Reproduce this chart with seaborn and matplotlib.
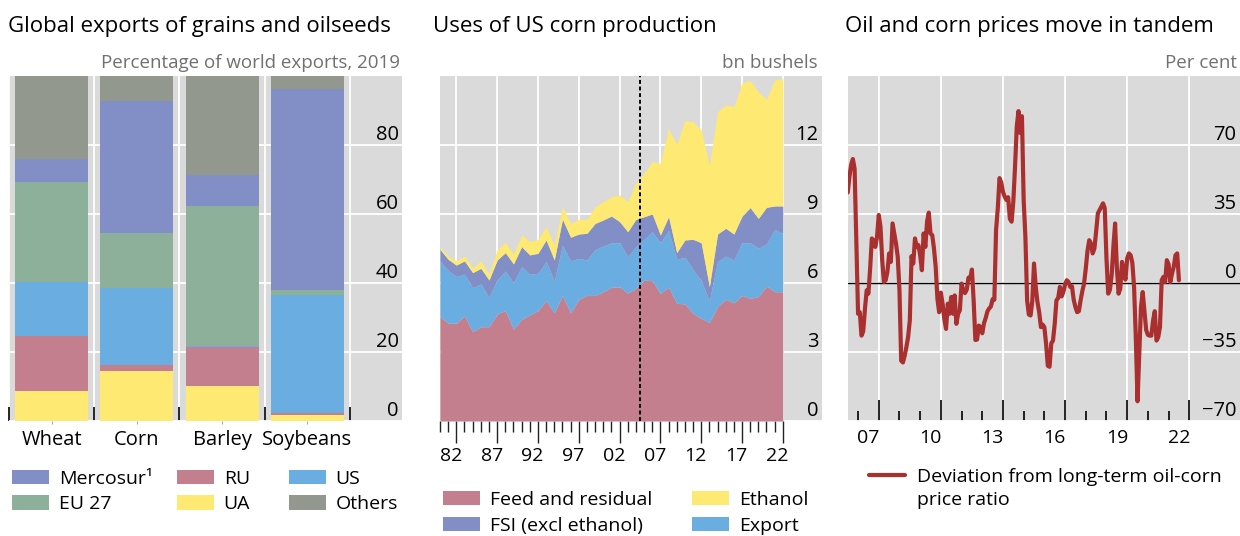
import matplotlib
matplotlib.use("Agg")
import matplotlib.pyplot as plt
import matplotlib.transforms as mtransforms
from matplotlib.patches import Patch
from matplotlib.lines import Line2D
import pandas as pd
import seaborn as sns

# panel 1: share of world exports in 2019 (%), stacked bottom to top
crops = ["Wheat", "Corn", "Barley", "Soybeans"]
ua = [8.7, 14.5, 10.1, 1.7]
ru = [15.9, 1.7, 11.4, 0.7]
us = [15.8, 22.4, 0.3, 34.1]
eu27 = [28.9, 15.9, 40.5, 1.5]
mercosur = [6.6, 38.3, 9.0, 58.2]
others = [24.1, 7.2, 28.7, 3.8]

# panel 2: uses of US corn production (bn bushels)
corn_years = list(range(1980, 2023))
feed = [4.54, 4.25, 4.25, 4.57, 3.88, 4.10, 4.10, 4.65, 4.80, 3.99,
        4.42, 4.61, 4.80, 5.23, 4.71, 5.45, 4.71, 5.29, 5.46, 5.46,
        5.62, 5.81, 5.84, 5.55, 5.77, 6.13, 6.10, 5.55, 5.81, 5.12,
        5.09, 4.68, 4.46, 4.28, 4.97, 5.29, 5.14, 5.46, 5.33, 5.41,
        5.87, 5.62, 5.62]
export = [2.42, 2.29, 2.03, 1.81, 1.92, 1.86, 1.28, 1.48, 1.72, 2.02,
          2.29, 1.77, 1.62, 1.70, 1.38, 2.20, 2.25, 1.78, 1.54, 2.00,
          1.99, 1.94, 1.91, 1.59, 1.81, 1.77, 2.13, 2.20, 2.47, 1.91,
          2.03, 1.89, 1.64, 0.95, 1.96, 1.88, 1.86, 2.29, 2.42, 2.10,
          1.83, 2.71, 2.54]
fsi = [0.50, 0.49, 0.50, 0.58, 0.65, 0.68, 0.75, 0.87, 0.80, 0.82,
       0.87, 0.84, 0.87, 0.94, 0.91, 1.12, 1.03, 1.06, 1.16, 1.13,
       1.13, 1.16, 0.92, 1.09, 1.19, 0.98, 0.77, 0.34, 0.60, 0.29,
       0.75, 1.33, 1.65, 0.61, 1.20, 1.21, 1.13, 1.16, 1.53, 1.30,
       1.59, 1.02, 1.19]
ethanol = [0.09, 0.14, 0.18, 0.21, 0.20, 0.32, 0.26, 0.43, 0.45, 0.42,
           0.51, 0.58, 0.61, 0.58, 0.65, 0.55, 0.60, 0.64, 0.61, 0.73,
           0.80, 0.84, 1.16, 1.31, 1.59, 1.89, 2.28, 3.11, 3.84, 4.71,
           5.19, 5.11, 4.90, 5.29, 5.32, 5.36, 5.54, 5.80, 5.52, 5.51,
           4.70, 5.48, 5.55]
policy_year = 2004.5

# panel 3: monthly deviation from long-term oil-corn price ratio (%), from Jul 2006
deviation = [45.9, 54.0, 60.0, 62.9, 58.0, 20.0, -15.6, -14.8, -26.7, -24.5,
             -13.1, -3.7, -5.4, 7.3, 22.6, 21.4, 18.3, 23.4, 34.5, 28.5,
             11.6, 0.5, 1.4, 5.6, 15.0, 10.7, 30.2, 25.1, 20.0, 13.3,
             -3.7, -39.4, -40.3, -36.9, -32.6, -27.5, -19.0, 13.6, 9.9, 22.6,
             18.3, 19.2, 14.1, 6.5, 25.1, 18.3, 31.1, 35.7, 25.1, 24.3,
             17.5, 8.2, -8.0, -14.8, -4.9, -10.5, -18.2, -23.3, -10.5, -15.6,
             -7.1, -15.6, -6.3, -20.7, -15.6, -13.9, -0.3, -3.7, -5.1, -3.4,
             2.7, 2.2, 6.8, -8.8, -28.9, -28.7, -21.6, -22.4, -25.5, -20.4,
             -17.7, -14.4, -12.9, -11.9, -8.2, -8.5, 26.8, 37.9, 53.2, 51.0,
             46.2, 43.8, 42.1, 43.5, 32.6, 31.1, 41.3, 59.1, 79.5, 87.2,
             76.1, 84.6, 42.1, 23.4, -8.8, -16.0, -16.5, -9.2, 9.9, -2.0,
             -9.7, -14.8, -22.4, -21.1, -22.4, -30.9, -42.0, -42.5, -30.6, -29.2,
             -20.7, -8.8, -7.6, -2.0, -6.8, -4.6, -0.7, 1.4, 0.5, -2.0,
             -1.7, -8.5, -12.2, -14.8, -14.3, -8.8, -4.1, -0.3, 7.3, 16.3,
             21.7, 20.0, 15.0, 17.5, 26.0, 35.3, 37.0, 38.7, 40.4, 37.9,
             12.4, -5.4, -3.4, 3.9, 18.3, 30.2, 8.2, -5.4, -2.9, 10.7,
             6.5, 1.7, 12.4, 15.0, 14.1, 10.2, -2.0, -27.5, -60.0, -36.0,
             -12.2, -4.6, -13.9, -23.8, -26.3, -26.7, -26.7, -19.0, -14.3, -29.2,
             -27.5, -22.4, 1.4, 3.1, 0.5, 11.6, 9.5, 0.5, 4.8, 8.2,
             14.1, 15.0, 1.4]

colors = {
    "Mercosur": "#828ec6",
    "RU": "#c47f8f",
    "US": "#6aade0",
    "EU 27": "#8db09a",
    "UA": "#fee972",
    "Others": "#93988f",
}
line_color = "#aa2f2f"
bg = "#dadada"

sns.set_theme(style="darkgrid", rc={"axes.facecolor": bg, "grid.color": "white",
                                   "grid.linewidth": 1.3, "axes.edgecolor": bg,
                                   "text.color": "black", "xtick.color": "black",
                                   "ytick.color": "black", "axes.labelcolor": "black"})
plt.rcParams["font.family"] = ["Open Sans", "DejaVu Sans"]

W, H = 1240, 536
fig = plt.figure(figsize=(W / 100, H / 100), dpi=100)
fig.patch.set_facecolor("white")


def axes_px(x0, x1, y0=76, y1=421):
    return fig.add_axes([x0 / W, 1 - y1 / H, (x1 - x0) / W, (y1 - y0) / H])


ax1 = axes_px(9, 402)
ax2 = axes_px(440, 822)
ax3 = axes_px(847.5, 1240)

for ax in (ax1, ax2, ax3):
    ax.set_axisbelow(True)
    for s in ax.spines.values():
        s.set_visible(False)


def inside_ylabels(ax, ticks, labels):
    ax.set_yticks(ticks, labels)
    ax.yaxis.tick_right()
    ax.tick_params(axis="y", which="both", length=0, pad=-2.5, labelsize=14.5,
                   labelcolor="black", right=True, labelright=True, left=False, labelleft=False)
    for lbl in ax.get_yticklabels():
        lbl.set_horizontalalignment("right")
        lbl.set_verticalalignment("bottom")
    ax.set_ylabel("")


# ---- panel 1: stacked bars
bars = pd.DataFrame({"UA": ua, "RU": ru, "US": us, "EU 27": eu27,
                     "Mercosur": mercosur, "Others": others}, index=crops)
cum = bars.cumsum(axis=1)
for name in reversed(bars.columns):
    sns.barplot(x=crops, y=cum[name].values, color=colors[name], width=0.856,
                saturation=1, linewidth=0, edgecolor="none", ax=ax1, zorder=2)
ax1.set_xlim(-0.5, 4.11)
ax1.set_ylim(0, 100)
ax1.set_xticks(range(len(crops)), crops)
ax1.set_xticks([-0.5, 0.5, 1.5, 2.5, 3.5], minor=True)
ax1.xaxis.grid(False, which="major")
ax1.xaxis.grid(True, which="minor", color="white", linewidth=1.3)
ax1.tick_params(axis="x", which="major", bottom=True, direction="out", length=2.5,
                width=0.8, color="#aaaaaa", pad=4, labelsize=14.5, labelcolor="black")
ax1.tick_params(axis="x", which="minor", bottom=True, direction="in", length=10,
                width=1.2, color="black")
inside_ylabels(ax1, [0, 20, 40, 60, 80], ["0", "20", "40", "60", "80"])

# ---- panel 2: stacked area
ax2.stackplot(corn_years, feed, export, fsi, ethanol,
              colors=[colors["RU"], colors["US"], colors["Mercosur"], colors["UA"]],
              linewidth=0, zorder=2)
ax2.axvline(policy_year, color="black", linestyle=(0, (2, 1.4)), linewidth=1.4, zorder=3)
ax2.set_xlim(1980, 2026.8)
ax2.set_ylim(0, 15)
major2 = list(range(1982, 2023, 5))
ax2.set_xticks(major2, [f"{y % 100:02d}" for y in major2])
ax2.set_xticks(corn_years, minor=True)
ax2.xaxis.grid(True, which="major", color="white", linewidth=1.3)
ax2.xaxis.grid(False, which="minor")
ax2.tick_params(axis="x", which="major", bottom=True, direction="out", length=16,
                width=1, color="#222222", pad=3, labelsize=14, labelcolor="black")
ax2.tick_params(axis="x", which="minor", bottom=True, direction="out", length=8,
                width=1, color="#222222")
inside_ylabels(ax2, [0, 3, 6, 9, 12], ["0", "3", "6", "9", "12"])

# ---- panel 3: line
months = pd.date_range("2006-07-01", periods=len(deviation), freq="MS")
dec_year = months.year + (months.month - 1) / 12
sns.lineplot(x=dec_year, y=deviation, color=line_color, linewidth=3, ax=ax3, zorder=3)
ax3.axhline(0, color="black", linewidth=1, zorder=2)
ax3.set_xlim(2006.49, 2025.45)
ax3.set_ylim(-70, 105)
major3 = list(range(2008, 2024, 3))
ax3.set_xticks(major3, [f"{(y - 1) % 100:02d}" for y in major3])
ax3.set_xticks(range(2007, 2024), minor=True)
ax3.xaxis.grid(True, which="major", color="white", linewidth=1.3)
ax3.xaxis.grid(False, which="minor")
ax3.tick_params(axis="x", which="major", bottom=True, direction="in", length=15,
                width=1.2, color="black", pad=6, labelsize=14, labelcolor="black")
ax3.tick_params(axis="x", which="minor", bottom=True, direction="in", length=7,
                width=1.2, color="black")
ax3.set_xlabel("")
inside_ylabels(ax3, [-70, -35, 0, 35, 70], ["\u221270", "\u221235", "0", "35", "70"])

# ---- titles
for x, t in [(8, "Global exports of grains and oilseeds"), (433, "Uses of US corn production"),
             (845, "Oil and corn prices move in tandem")]:
    fig.text(x / W, 1 - 32 / H, t, fontsize=16, color="black", va="baseline", ha="left")
for x, t in [(400, "Percentage of world exports, 2019"), (818, "bn bushels"), (1237, "Per cent")]:
    fig.text(x / W, 1 - 68 / H, t, fontsize=13.5, color="#707070", va="baseline", ha="right")

# ---- legends
leg_kw = dict(loc="center left", frameon=False, fontsize=14, handlelength=1.9,
              handleheight=0.75, handletextpad=0.5, labelspacing=0.4,
              borderpad=0, borderaxespad=0)


def legend_column(names, labels, x, y):
    handles = [Patch(facecolor=colors[n], edgecolor="none", label=l) for n, l in zip(names, labels)]
    fig.legend(handles=handles, bbox_to_anchor=(x / W, 1 - y / H), **leg_kw)


legend_column(["Mercosur", "EU 27"], ["Mercosur\u00b9", "EU 27"], 12, 491.5)
legend_column(["RU", "UA"], ["RU", "UA"], 177, 491.5)
legend_column(["US", "Others"], ["US", "Others"], 289, 491.5)
legend_column(["RU", "Mercosur"], ["Feed and residual", "FSI (excl ethanol)"], 443, 513)
legend_column(["UA", "US"], ["Ethanol", "Export"], 692, 513)

fig.legend(handles=[Line2D([], [], color=line_color, linewidth=3,
                           label="Deviation from long-term oil-corn")],
           bbox_to_anchor=(869 / W, 1 - 477 / H), **{**leg_kw, "handlelength": 1.85,
                                                    "handletextpad": 0.6})
fig.text(917 / W, 1 - 500 / H, "price ratio", fontsize=14, va="center", ha="left")

# shift year labels so they sit in the middle of the year before the long tick
shift2 = mtransforms.ScaledTranslation(-5.5 / 100, 0, fig.dpi_scale_trans)
for lbl in ax2.get_xticklabels():
    lbl.set_transform(lbl.get_transform() + shift2)
shift3 = mtransforms.ScaledTranslation(-10.3 / 100, 0, fig.dpi_scale_trans)
for lbl in ax3.get_xticklabels():
    lbl.set_transform(lbl.get_transform() + shift3)

fig.savefig("out.png", dpi=100)
